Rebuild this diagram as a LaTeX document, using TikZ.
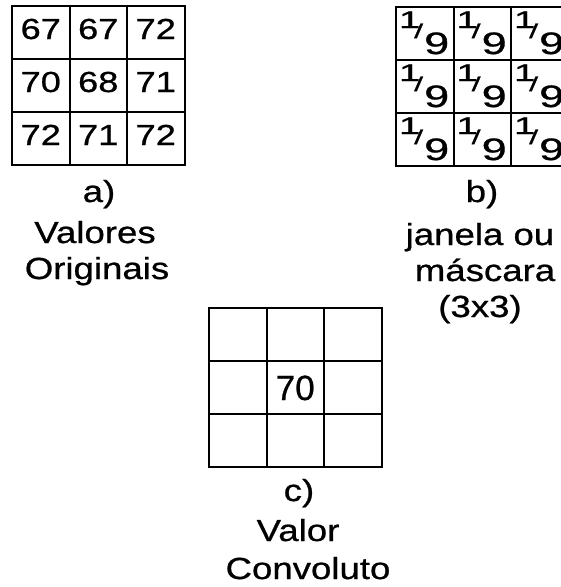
\documentclass[tikz,border=0pt]{standalone}
\usepackage{fontspec}
\usepackage{graphicx}
\setmainfont{Liberation Sans}[FakeBold=0.8]
\newfontfamily\lblfont[FakeStretch=1.2,FakeBold=0.8]{Liberation Sans}
\newfontfamily\numfont[FakeStretch=1.25,FakeBold=0.8]{Liberation Sans}
\newcommand{\myninth}{\makebox[57.5pt][l]{%
  \hspace*{2.8pt}\rlap{\fontsize{24}{24}\selectfont\raisebox{26pt}{\scalebox{1.6}[1]{1}}}%
  \hspace*{15.2pt}\rlap{\fontsize{20}{20}\selectfont\raisebox{16pt}{\scalebox{1.6}[1]{/}}}%
  \hspace*{10pt}\rlap{\fontsize{31}{31}\selectfont\scalebox{1.45}[1]{9}}\hfill}}
\tikzset{
  cell/.style={draw, line width=2pt, minimum width=57.5pt, minimum height=53pt, inner sep=0pt, outer sep=0pt, anchor=north west},
  num/.style={anchor=base, inner sep=0pt, font=\numfont\fontsize{29}{29}\selectfont},
  bignum/.style={anchor=base, inner sep=0pt, font=\fontsize{35}{35}\selectfont},
  frac/.style={anchor=base west, inner sep=0pt},
  lbl/.style={anchor=base, inner sep=0pt, font=\lblfont\fontsize{30.5}{30.5}\selectfont},
}
\begin{document}
\begin{tikzpicture}[x=1pt,y=-1pt]
\useasboundingbox (0,0) rectangle (561,587);
\clip (0,0) rectangle (561,587);
% grids
\foreach \r [count=\i from 0] in {1,2,3}{
  \foreach \c [count=\j from 0] in {1,2,3}{
    \node[cell] (a\r\c) at ({12+57.5*\j},{6+53*\i}) {};
    \node[cell] (b\r\c) at ({396+57.5*\j},{7+53*\i}) {};
    \node[cell] (c\r\c) at ({209+57.5*\j},{308+53*\i}) {};
  }
}
% values a
\node[num] (ta11) at ([yshift=-33pt]a11.north) {67};
\node[num] (ta12) at ([yshift=-33pt]a12.north) {67};
\node[num] (ta13) at ([yshift=-33pt]a13.north) {72};
\node[num] (ta21) at ([yshift=-33pt]a21.north) {70};
\node[num] (ta22) at ([yshift=-33pt]a22.north) {68};
\node[num] (ta23) at ([yshift=-33pt]a23.north) {71};
\node[num] (ta31) at ([yshift=-33pt]a31.north) {72};
\node[num] (ta32) at ([yshift=-33pt]a32.north) {71};
\node[num] (ta33) at ([yshift=-33pt]a33.north) {72};
% mask b
\foreach \r in {1,2,3}{
  \foreach \c in {1,2,3}{
    \node[frac] (tb\r\c) at ([yshift=-47pt]b\r\c.north west) {\myninth};
  }
}
% result c
\node[bignum] (tc22) at ([yshift=-39pt]c22.north) {70};
% labels
\node[lbl] (la1) at (99,202) {a)};
\node[lbl] (la2) at (95,243) {Valores};
\node[lbl] (la3) at (97,279) {Originais};
\node[lbl] (lb1) at (482,202) {b)};
\node[lbl] (lb2) at (480,245) {janela ou};
\node[lbl] (lb3) at (485,281) {máscara};
\node[lbl] (lb4) at (480,317) {(3x3)};
\node[lbl] (lc1) at (299,501) {c)};
\node[lbl] (lc2) at (298,541) {Valor};
\node[lbl] (lc3) at (308,579) {Convoluto};
\end{tikzpicture}
\end{document}
